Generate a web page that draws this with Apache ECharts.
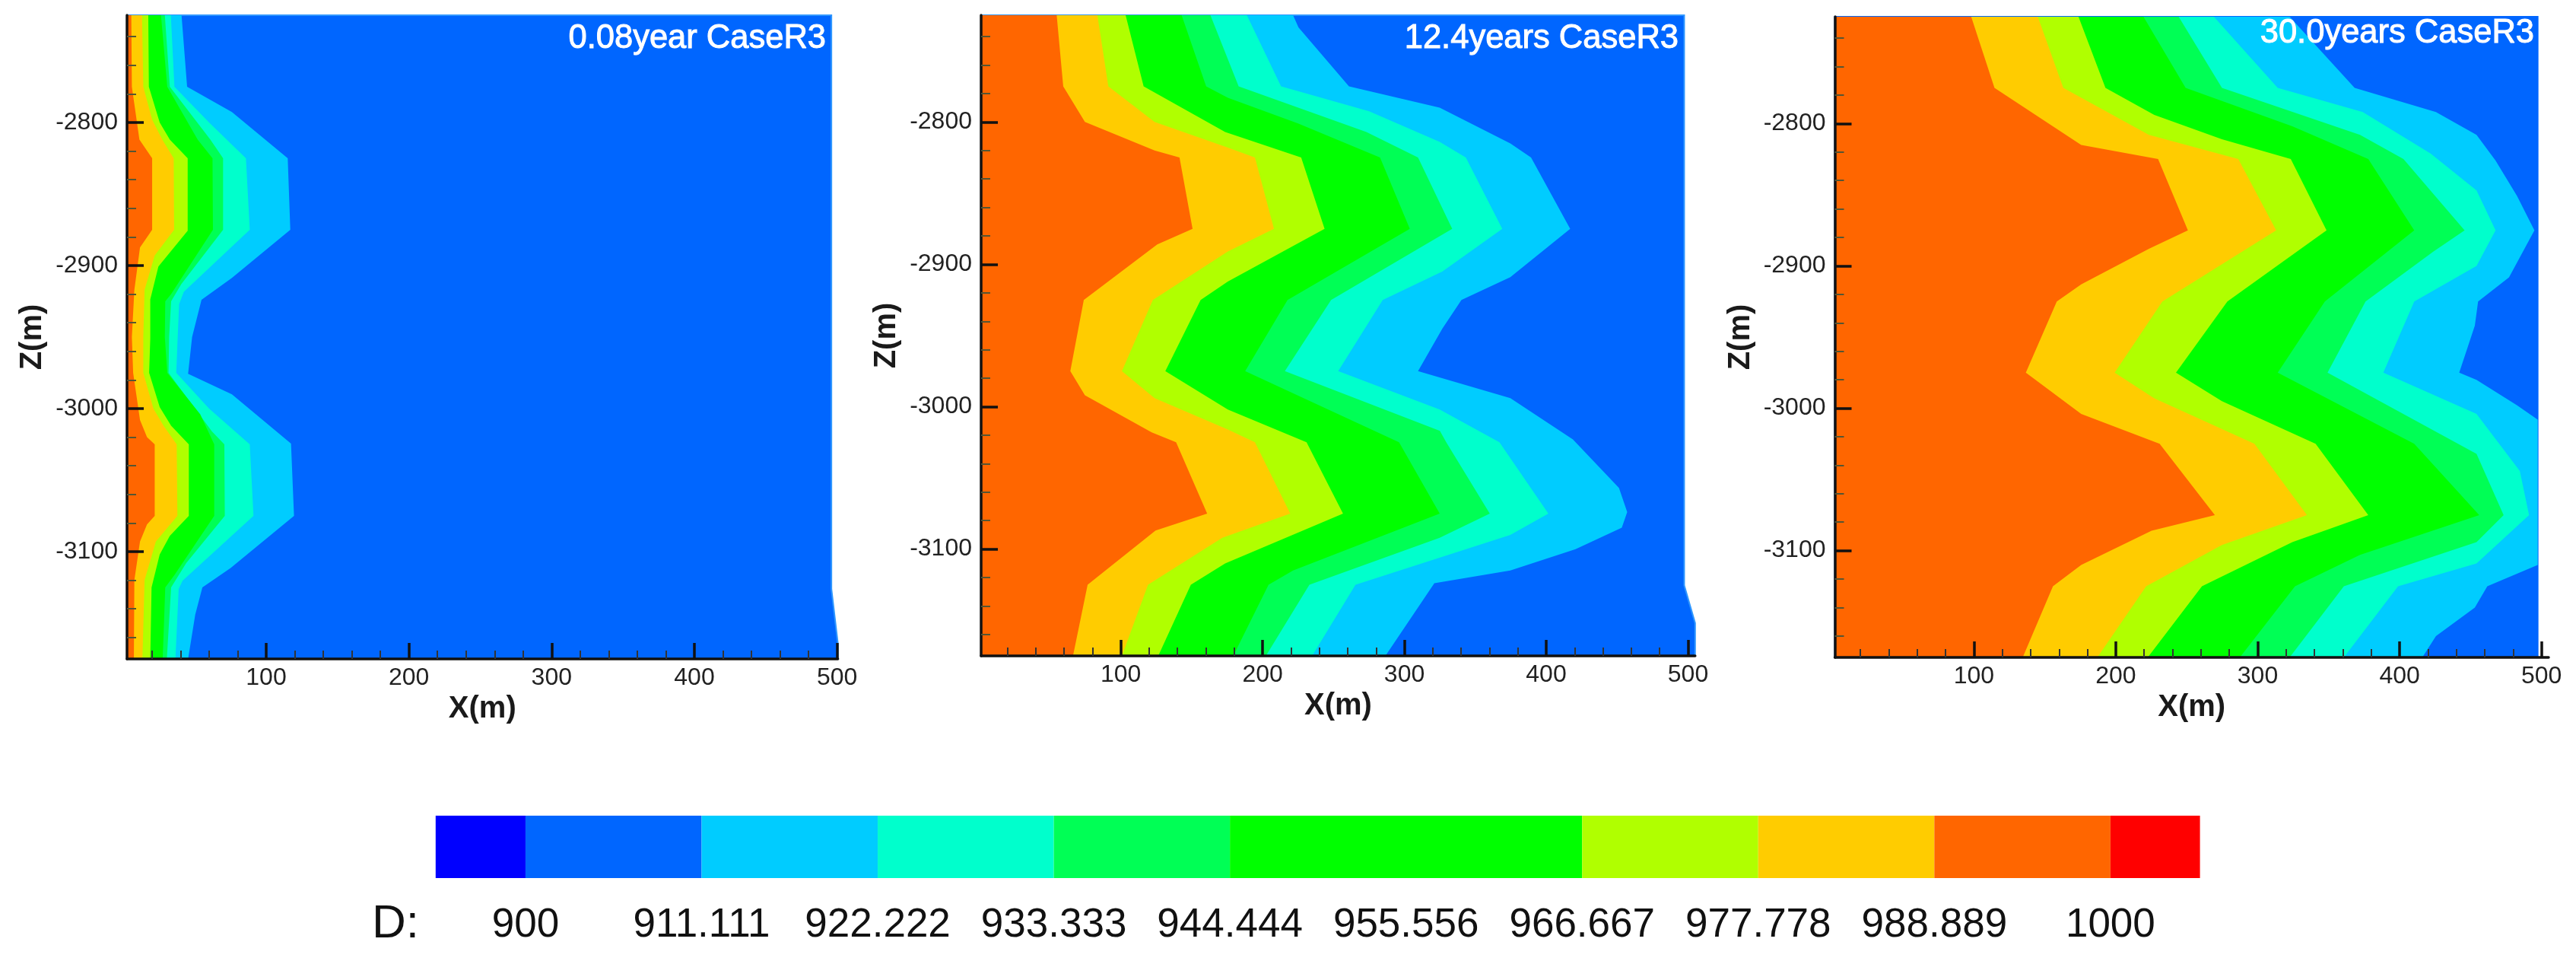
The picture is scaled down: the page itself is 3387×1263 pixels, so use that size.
<!DOCTYPE html>
<html><head><meta charset="utf-8">
<style>html,body{margin:0;padding:0;background:#fff}#c{width:3387px;height:1263px}</style>
<script src="https://cdn.jsdelivr.net/npm/echarts@6/dist/echarts.min.js"></script>
</head><body><div id="c"></div>
<script>
// Contour levels / legend
const legendLevels = [900, 911.111, 922.222, 933.333, 944.444, 955.556, 966.667, 977.778, 988.889, 1000];
const legendEdges = [894.33, 900, 911.111, 922.222, 933.333, 944.444, 966.667, 977.778, 988.889, 1000, 1005.65];
const legendColors = ['#0000ff','#0066ff','#00ccff','#00ffcc','#00ff55','#00ff00','#b0ff00','#ffcc00','#ff6600','#ff0000'];
const bandColors = ['#0066ff','#00ccff','#00ffcc','#00ff55','#00ff00','#b0ff00','#ffcc00','#ff6600'];
const xMajorTicks = [100,200,300,400,500];
const zMajorTicks = [-2800,-2900,-3000,-3100];
const xMinorTicks = [20,40,60,80,120,140,160,180,220,240,260,280,320,340,360,380,420,440,460,480];
const zMinorTicks = [-2740,-2760,-2780,-2820,-2840,-2860,-2880,-2920,-2940,-2960,-2980,-3020,-3040,-3060,-3080,-3120,-3140,-3160];

// Panel 1: 0.08 year  — contours as [x, z]
const p1Outline = [[2.5,-2725],[496,-2725],[496,-3126],[500.5,-3164],[500.5,-3175],[2.5,-3175]];
const p1c911 = [[40.7,-2725],[44.6,-2775],[76,-2792.7],[115.1,-2825],[116.9,-2875],[76,-2908.7],[54.7,-2924],[48.1,-2950],[45.3,-2975.7],[76,-2990],[117.4,-3024.5],[119.5,-3075],[75.1,-3111.5],[55.3,-3125],[50.3,-3144],[45.3,-3175]];
const p1c922 = [[33.2,-2725],[35.7,-2775],[60,-2800],[85.8,-2825],[88.5,-2875],[42.3,-2918.4],[39,-2927],[38,-2950],[37,-2975],[60,-3000],[88.5,-3025],[91.1,-3075],[41.4,-3120.4],[38.7,-3126],[36.4,-3175]];
const p1c933 = [[29,-2725],[32.5,-2775],[60.9,-2812],[69.8,-2825],[69.8,-2875],[40.5,-2913],[33.4,-2925],[32,-2950],[31.6,-2975],[62,-3016],[70.7,-3025],[71,-3075],[44,-3108],[33.4,-3125],[30.4,-3175]];
const p1c944 = [[26.3,-2725],[30.7,-2775],[52,-2812],[62.4,-2825],[62.7,-2875],[33.4,-2920],[29.3,-2925],[29,-2950],[30.7,-2975],[53.8,-3004],[63.6,-3025],[63.6,-3075],[36,-3116],[29.3,-3125],[27.5,-3175]];
const p1c966 = [[17.4,-2725],[17.8,-2775],[25.4,-2800],[32.5,-2812],[45,-2825],[45,-2875.6],[24.5,-2900.7],[18.8,-2923.7],[18.8,-2951],[18,-2975],[25.4,-2999],[33.4,-3012],[45.8,-3025],[45.8,-3075],[32.5,-3089],[25.4,-3102],[19.7,-3125],[18.8,-3175]];
const p1c977 = [[13,-2725],[13.9,-2775],[20.1,-2798],[27.2,-2812],[35.2,-2825],[35.5,-2875],[21.9,-2893],[14.8,-2917],[13.9,-2950],[13.9,-2975],[21,-3000],[28.1,-3012],[37.3,-3025],[37.8,-3075],[22.7,-3093],[14.8,-3120],[13.3,-3175]];
const p1c988 = [[5.5,-2725],[5.9,-2775],[11.2,-2812],[20.1,-2825],[20.1,-2875],[11.6,-2887.4],[7.65,-2917],[5.9,-2950],[6.8,-2975],[11.6,-3008],[16.5,-3020],[21.9,-3025],[21.9,-3075],[16.5,-3081],[11.6,-3093],[7.65,-3120],[7.3,-3175]];

// Panel 2: 12.4 years
const p2Outline = [[1.5,-2725],[497.3,-2725],[497.3,-3125.5],[505,-3152],[505,-3175],[1.5,-3175]];
const p2c911 = [[221.5,-2725],[225.3,-2733.6],[260.9,-2775],[324.9,-2790],[374.7,-2815],[389.3,-2825],[416.9,-2875],[374.7,-2909],[340.2,-2925],[326.8,-2945],[309.6,-2975],[374.7,-2994],[418.8,-3023],[451.3,-3057],[457.1,-3074],[453.3,-3085],[420.7,-3100],[374.7,-3115],[321.1,-3124],[286.6,-3175]];
const p2c922 = [[188.9,-2725],[213,-2775],[275.1,-2792.5],[324.9,-2814],[343.3,-2825],[369,-2875],[326.8,-2905],[284.7,-2925],[253.3,-2975],[324.9,-3002],[367,-3025],[401.5,-3075],[374.7,-3090],[265.5,-3125],[234.9,-3175]];
const p2c933 = [[163.2,-2725],[183.1,-2775],[273.2,-2807],[309.6,-2825],[333.7,-2875],[248.3,-2925],[215.7,-2975],[325,-3017],[329.5,-3025],[360.2,-3075],[324.9,-3092],[233,-3125],[202.3,-3175]];
const p2c944 = [[142.9,-2725],[160.2,-2775],[175.5,-2783],[225,-2801],[282.8,-2825],[303.8,-2875],[217.6,-2925],[187.7,-2975],[296.2,-3025],[324.9,-3075],[221.5,-3115],[204.2,-3125],[179.3,-3175]];
const p2c966 = [[103.4,-2725],[116.1,-2775],[173.6,-2807],[227.2,-2825],[243.7,-2875],[175.5,-2912],[156.3,-2925],[131.4,-2975],[175.5,-3002],[231,-3025],[256.7,-3075],[173.6,-3110],[149.4,-3125],[126.4,-3175]];
const p2c977 = [[83.5,-2725],[91.2,-2775],[123.8,-2800],[175.5,-2818],[194.6,-2825],[208,-2875],[175.5,-2891],[122.6,-2925],[100.8,-2975],[123.8,-2994],[175.5,-3016],[194.6,-3025],[219.5,-3075],[171.6,-3092],[119.2,-3125],[100.8,-3175]];
const p2c988 = [[54.8,-2725],[59.4,-2775],[74.7,-2800],[123.8,-2820],[141.4,-2825],[150.6,-2875],[125.7,-2886],[73.9,-2925],[64.4,-2975],[74.7,-2992],[121.8,-3018],[139,-3025],[160.9,-3075],[124.5,-3087],[76.6,-3125],[66.3,-3175]];

// Panel 3: 30.0 years
const p3Outline = [[2,-2725],[497.3,-2725],[497.3,-3175],[2,-3175]];
const p3c911 = [[322.5,-2725],[368.3,-2775],[425.6,-2792],[454.2,-2808],[467.6,-2826],[482.8,-2851],[495,-2875],[477.1,-2908],[455.3,-2925],[453,-2942],[442,-2975],[454.2,-2980],[482.8,-2998],[497.3,-3008],[497.3,-3110],[461.8,-3125],[453,-3140],[425.6,-3160],[416,-3175]];
const p3c922 = [[269.1,-2725],[314.1,-2775],[374,-2792],[421.8,-2821],[454.2,-2847],[467.6,-2875],[454.2,-2900],[410.3,-2925],[388.5,-2975],[454.2,-3004],[484.7,-3044],[491.2,-3075],[454.2,-3109],[398.9,-3125],[360.7,-3175]];
const p3c933 = [[244.3,-2725],[274.8,-2775],[372.1,-2808],[402.7,-2825],[445.8,-2875],[423.7,-2890],[376,-2925],[349.2,-2975],[454.2,-3032],[473.3,-3075],[454.2,-3094],[360.7,-3125],[322.5,-3175]];
const p3c944 = [[219.5,-2725],[249.2,-2775],[324.4,-2802],[377.9,-2825],[410.3,-2875],[347.3,-2925],[314.1,-2975],[410.3,-3025],[456.1,-3075],[372.1,-3103],[326.3,-3125],[287.4,-3175]];
const p3c966 = [[173.7,-2725],[192.7,-2775],[227.1,-2794],[274.8,-2811],[323.3,-2825],[348.5,-2875],[278.6,-2925],[242.4,-2975],[274.8,-2995],[340.8,-3025],[377.9,-3075],[324.4,-3094],[260.7,-3125],[222.5,-3175]];
const p3c977 = [[145,-2725],[163,-2775],[223.3,-2808],[286.3,-2825],[313,-2875],[232.8,-2925],[199.2,-2975],[227.1,-2993],[297.7,-3025],[334.7,-3075],[274.8,-3096],[221.4,-3125],[187,-3175]];
const p3c988 = [[98.1,-2725],[114.5,-2775],[175.6,-2815],[229.8,-2825],[250.8,-2875],[223.3,-2888],[175.6,-2913],[158.4,-2925],[136.6,-2975],[175.6,-3004],[230.9,-3025],[269.8,-3075],[225.2,-3086],[175.6,-3110],[155.7,-3125],[134.4,-3175]];

const panelContours = [
  [p1c911,p1c922,p1c933,p1c944,p1c966,p1c977,p1c988],
  [p2c911,p2c922,p2c933,p2c944,p2c966,p2c977,p2c988],
  [p3c911,p3c922,p3c933,p3c944,p3c966,p3c977,p3c988]
];
const panelOutlines = [p1Outline,p2Outline,p3Outline];
const panelTitles = ['0.08year CaseR3','12.4years CaseR3','30.0years CaseR3'];

const FONT = '"Liberation Sans", Arial, sans-serif';
const ZTOP = -2725, ZBOT = -3175;
const layout = [
  {left:167,   width:934.6, top:20, height:846, xmin:2.5, xmax:500.5, titleRight:2300, titleTop:29, edge:'#2f97ff'},
  {left:1290,  width:938.8, top:20, height:842, xmin:1.5, xmax:505,   titleRight:1179, titleTop:29, edge:'#2f97ff'},
  {left:2412.5,width:938.5, top:22, height:842, xmin:2,   xmax:505,   titleRight:54,   titleTop:22, edge:'#0066ff'}
];

const grids=[], xAxes=[], yAxes=[], series=[], titles=[];
layout.forEach((L,i)=>{
  grids.push({left:L.left,width:L.width,top:L.top,height:L.height,containLabel:false});
  const xi = xAxes.length, yi = yAxes.length;
  xAxes.push({type:'value',gridIndex:i,position:'bottom',min:L.xmin,max:L.xmax,z:6,
    name:'X(m)',nameLocation:'middle',nameGap:37,
    nameTextStyle:{fontFamily:FONT,fontWeight:'bold',fontSize:40,color:'#1a1a1a'},
    axisLine:{show:true,onZero:false,lineStyle:{color:'#111',width:3.5}},
    axisTick:{show:true,inside:true,length:21,lineStyle:{color:'#111',width:3.5},customValues:xMajorTicks},
    axisLabel:{show:true,margin:9,fontFamily:FONT,fontSize:32,color:'#222',customValues:xMajorTicks,formatter:v=>String(v)},
    splitLine:{show:false}});
  xAxes.push({type:'value',gridIndex:i,position:'bottom',min:L.xmin,max:L.xmax,z:6,
    axisLine:{show:false},axisLabel:{show:false},splitLine:{show:false},
    axisTick:{show:true,inside:true,length:11,lineStyle:{color:'#333',width:2},customValues:xMinorTicks}});
  yAxes.push({type:'value',gridIndex:i,position:'left',min:ZBOT,max:ZTOP,z:6,
    name:'Z(m)',nameLocation:'middle',nameGap:104,
    nameTextStyle:{fontFamily:FONT,fontWeight:'bold',fontSize:40,color:'#1a1a1a'},
    axisLine:{show:true,onZero:false,lineStyle:{color:'#111',width:3.5}},
    axisTick:{show:true,inside:true,length:22,lineStyle:{color:'#111',width:3.5},customValues:zMajorTicks},
    axisLabel:{show:true,margin:12,padding:[4,0,0,0],fontFamily:FONT,fontSize:32,color:'#222',customValues:zMajorTicks,formatter:v=>String(v)},
    splitLine:{show:false}});
  yAxes.push({type:'value',gridIndex:i,position:'left',min:ZBOT,max:ZTOP,z:6,
    axisLine:{show:false},axisLabel:{show:false},splitLine:{show:false},
    axisTick:{show:true,inside:true,length:12,lineStyle:{color:'#553',width:2},customValues:zMinorTicks}});
  // filled regions: outermost first, each one painted over the previous
  const polys = [panelOutlines[i]].concat(panelContours[i].map(c=>c.concat([[L.xmin,ZBOT],[L.xmin,ZTOP]])));
  series.push({type:'custom',coordinateSystem:'cartesian2d',xAxisIndex:xi,yAxisIndex:yi,silent:true,clip:false,z:2,
    data:polys.map((p,k)=>[p[0][0],p[0][1],k]),
    renderItem:(params,api)=>{
      const k=params.dataIndex;
      const style = k===0 ? {fill:bandColors[k],stroke:L.edge,lineWidth:2} : {fill:bandColors[k]};
      return {type:'polygon',shape:{points:polys[k].map(p=>api.coord(p))},style};
    }});
  titles.push({text:panelTitles[i],right:L.titleRight,top:L.titleTop,padding:0,
    textStyle:{fontFamily:FONT,fontWeight:'normal',fontSize:43.5,color:'#fff',textBorderColor:'#fff',textBorderWidth:1},z:8});
});
titles.push({text:'D:',left:489,top:1184,padding:0,textStyle:{fontFamily:FONT,fontWeight:'normal',fontSize:62,color:'#111'}});

// Colour legend
const gl = grids.length;
grids.push({left:572.8,width:2319.8,top:1072,height:82,containLabel:false});
xAxes.push({type:'value',gridIndex:gl,position:'bottom',min:legendEdges[0],max:legendEdges[legendEdges.length-1],
  axisLine:{show:false},axisTick:{show:false},splitLine:{show:false},
  axisLabel:{show:true,margin:36,fontFamily:FONT,fontSize:53,color:'#111',customValues:legendLevels,formatter:v=>String(v)}});
yAxes.push({type:'value',gridIndex:gl,min:0,max:1,show:false});
series.push({type:'custom',coordinateSystem:'cartesian2d',xAxisIndex:xAxes.length-1,yAxisIndex:yAxes.length-1,silent:true,
  data:legendColors.map((c,k)=>[legendEdges[k],legendEdges[k+1]]),
  renderItem:(params,api)=>{
    const a=api.coord([api.value(0),1]), b=api.coord([api.value(1),0]);
    return {type:'rect',shape:{x:a[0],y:a[1],width:b[0]-a[0],height:b[1]-a[1]},style:{fill:legendColors[params.dataIndex]}};
  }});

const chart = echarts.init(document.getElementById('c'),null,{renderer:'canvas',width:3387,height:1263});
chart.setOption({animation:false,backgroundColor:'#fff',title:titles,grid:grids,xAxis:xAxes,yAxis:yAxes,series:series});
</script></body></html>
